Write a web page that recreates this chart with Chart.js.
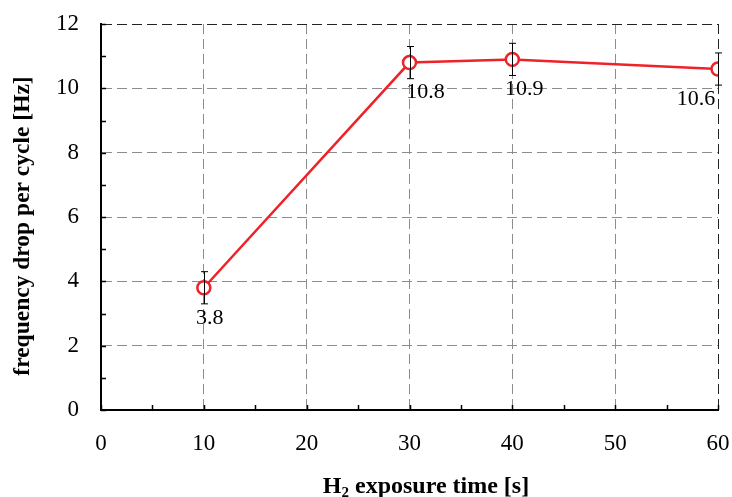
<!DOCTYPE html>
<html>
<head>
<meta charset="utf-8">
<script src="https://cdn.jsdelivr.net/npm/chart.js@4.4.1/dist/chart.umd.min.js"></script>
<style>
  html, body { margin: 0; padding: 0; background: #fff; }
  #wrap { width: 732px; height: 497px; }
</style>
</head>
<body>
<div id="wrap"><canvas id="myChart" width="732" height="497"></canvas></div>
<script>
// exposure time [s] and frequency drop per cycle [Hz]
const times = [10, 30, 40, 60]
const drops = [3.8, 10.8, 10.9, 10.6]
const errors = [0.5, 0.5, 0.5, 0.5]
const xTicks = [0, 10, 20, 30, 40, 50, 60]
const yTicks = [0, 2, 4, 6, 8, 10, 12]

const red = "#ee2228"
const serif = "'Liberation Serif', 'Times New Roman', serif"

// error bars, value labels, inward ticks and axis titles
const extras = {
    id: "extras",
    afterDatasetsDraw(chart) {
        const ctx = chart.ctx
        const xs = chart.scales.x
        const ys = chart.scales.y
        const area = chart.chartArea
        ctx.save()

        // inward tick marks
        ctx.strokeStyle = "#000"
        ctx.lineWidth = 1.5
        for (let v = 0; v <= 12; v += 1) {
            const y = Math.round(ys.getPixelForValue(v)) + 0.5
            ctx.beginPath()
            ctx.moveTo(area.left, y)
            ctx.lineTo(area.left + 5, y)
            ctx.stroke()
        }
        for (let v = 0; v <= 60; v += 5) {
            const x = Math.round(xs.getPixelForValue(v)) + 0.5
            ctx.beginPath()
            ctx.moveTo(x, area.bottom)
            ctx.lineTo(x, area.bottom - 5)
            ctx.stroke()
        }

        // error bars
        ctx.lineWidth = 1
        times.forEach((t, i) => {
            const x = Math.round(xs.getPixelForValue(t)) + 0.5
            const yTop = ys.getPixelForValue(drops[i] + errors[i])
            const yBot = ys.getPixelForValue(drops[i] - errors[i])
            ctx.beginPath()
            ctx.moveTo(x, yTop)
            ctx.lineTo(x, yBot)
            ctx.moveTo(x - 3.5, yTop)
            ctx.lineTo(x + 3.5, yTop)
            ctx.moveTo(x - 3.5, yBot)
            ctx.lineTo(x + 3.5, yBot)
            ctx.stroke()
        })
        ctx.restore()
    },
    afterDraw(chart) {
        const ctx = chart.ctx
        const xs = chart.scales.x
        const ys = chart.scales.y
        ctx.save()

        // value labels under each point
        const shift = [6, 16, 12, -22]
        ctx.fillStyle = "#000"
        ctx.font = "22px " + serif
        ctx.textAlign = "center"
        ctx.textBaseline = "middle"
        times.forEach((t, i) => {
            const x = xs.getPixelForValue(t) + shift[i]
            const y = ys.getPixelForValue(drops[i]) + 30
            ctx.fillText(drops[i].toFixed(1), x, y)
        })

        // y axis title
        ctx.font = "bold 23.5px " + serif
        ctx.save()
        ctx.translate(23, 226)
        ctx.rotate(-Math.PI / 2)
        ctx.fillText("frequency drop per cycle [Hz]", 0, 0)
        ctx.restore()

        // x axis title with subscript
        const parts = ["H", "2", " exposure time [s]"]
        ctx.textAlign = "left"
        ctx.textBaseline = "alphabetic"
        ctx.font = "bold 24px " + serif
        const w0 = ctx.measureText(parts[0]).width
        const w2 = ctx.measureText(parts[2]).width
        ctx.font = "bold 15px " + serif
        const w1 = ctx.measureText(parts[1]).width
        let x = 426 - (w0 + w1 + w2) / 2
        const base = 493
        ctx.font = "bold 24px " + serif
        ctx.fillText(parts[0], x, base)
        x += w0
        ctx.font = "bold 15px " + serif
        ctx.fillText(parts[1], x, base + 4)
        x += w1
        ctx.font = "bold 24px " + serif
        ctx.fillText(parts[2], x, base)
        ctx.restore()
    }
}

const gridColor = (c) => (c.tick && (c.tick.value === 12 || c.tick.value === 60)) ? "#222" : "#8c8c8c"

const config = {
    type: "line",
    data: {
        datasets: [{
            data: times.map((t, i) => ({x: t, y: drops[i]})),
            borderColor: red,
            borderWidth: 2.5,
            backgroundColor: "#fff",
            pointBackgroundColor: "#fff",
            pointBorderColor: red,
            pointBorderWidth: 2.5,
            pointRadius: 6.5,
            tension: 0
        }]
    },
    options: {
        responsive: false,
        animation: false,
        layout: {padding: {left: 0, right: 14, top: 24, bottom: 0}},
        plugins: {legend: {display: false}, tooltip: {enabled: false}},
        scales: {
            x: {
                type: "linear",
                min: 0,
                max: 60,
                afterBuildTicks: (s) => { s.ticks = xTicks.map(v => ({value: v})) },
                afterFit: (s) => { s.height = 87; s.paddingLeft = 0; s.paddingRight = 0 },
                grid: {color: gridColor, lineWidth: 1, drawTicks: false},
                border: {color: "#000", width: 2, dash: [10, 5]},
                ticks: {color: "#000", padding: 20, font: {family: serif, size: 23}}
            },
            y: {
                min: 0,
                max: 12,
                afterBuildTicks: (s) => { s.ticks = yTicks.map(v => ({value: v})) },
                afterFit: (s) => { s.width = 101; s.paddingTop = 0; s.paddingBottom = 0 },
                grid: {color: gridColor, lineWidth: 1, drawTicks: false},
                border: {color: "#000", width: 2, dash: [10, 5]},
                ticks: {color: "#000", padding: 22, font: {family: serif, size: 23}}
            }
        }
    },
    plugins: [extras]
}

new Chart(document.getElementById("myChart"), config)
</script>
</body>
</html>
